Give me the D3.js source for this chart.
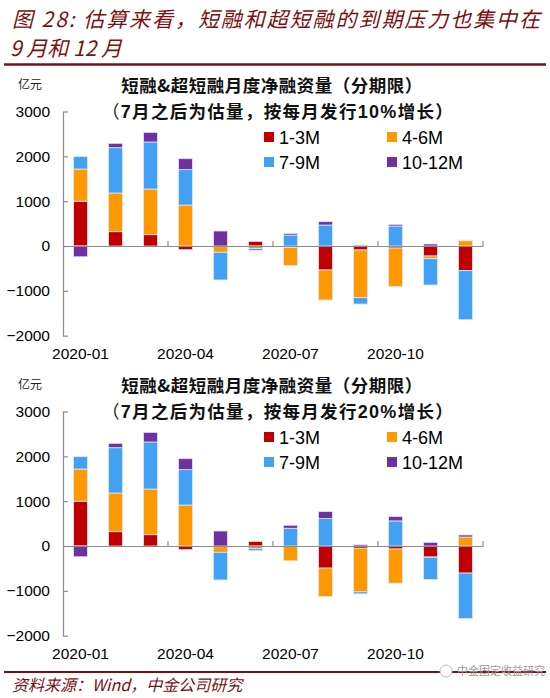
<!DOCTYPE html>
<html><head><meta charset="utf-8">
<script src="https://cdn.jsdelivr.net/npm/d3@7"></script>
<style>
html,body{margin:0;padding:0;background:#fff;}
svg{display:block;}
</style></head>
<body>
<svg id="c" width="550" height="698"></svg>
<script>
const months = ["2020-01","2020-02","2020-03","2020-04","2020-05","2020-06","2020-07","2020-08","2020-09","2020-10","2020-11","2020-12"];
const tickMonths = ["2020-01","2020-04","2020-07","2020-10"];
const seriesNames = ["1-3M","4-6M","7-9M","10-12M"];
const seriesColors = ["#c00000","#ff9900","#43a1f3","#7030a0"];
const yTicks = [3000,2000,1000,0,-1000,-2000];

// Chart 1: growth 10%
const a_1_3M   = [1000, 320, 253, -82, -15, 104, -35, -535, -89, -45, -223, -550];
const a_4_6M   = [717, 862, 1018, 914, -125, -55, -400, -669, -1063, -855, -60, 119];
const a_7_9M   = [276, 1011, 1049, 789, -617, -45, 245, 468, -142, 446, -587, -1093];
const a_10_12M = [-240, 97, 215, 245, 335, 0, 37, 75, 22, 37, 45, 15];

// Chart 2: growth 20%
const b_1_3M   = [1000, 320, 253, -82, -15, 104, -10, -493, -50, -67, -246, -604];
const b_4_6M   = [717, 862, 1018, 914, -125, -55, -320, -634, -972, -761, -5, 201];
const b_7_9M   = [276, 1011, 1049, 789, -617, -45, 396, 612, -45, 560, -493, -1015];
const b_10_12M = [-240, 97, 215, 245, 335, 0, 67, 157, 30, 97, 82, 45];

const titleLine1 = "图 28: 估算来看，短融和超短融的到期压力也集中在";
const titleLine2 = "9 月和 12 月";
const source = "资料来源：Wind，中金公司研究";

const svg = d3.select("#c");
const dark = "#7a1010";
const cjk = "'Noto Sans CJK SC', sans-serif";
const latin = "'Liberation Sans', Arial, sans-serif";

svg.append("text").attr("x", 12).attr("y", 27).attr("fill", dark)
  .attr("font-family", cjk).attr("font-size", 21).attr("font-style", "italic")
  .attr("textLength", 528).attr("lengthAdjust", "spacing")
  .text(titleLine1);
svg.append("text").attr("x", 10).attr("y", 56).attr("fill", dark)
  .attr("font-family", cjk).attr("font-size", 21).attr("font-style", "italic")
  .attr("textLength", 112).attr("lengthAdjust", "spacingAndGlyphs")
  .text(titleLine2);
svg.append("line").attr("x1", 4).attr("x2", 546).attr("y1", 64.5).attr("y2", 64.5)
  .attr("stroke", dark).attr("stroke-width", 2.5);

function drawChart(offY, growth, data) {
  const g = svg.append("g").attr("transform", `translate(0,${offY})`);
  const x = d3.scaleBand().domain(months).range([63, 483]).paddingInner(0.6).paddingOuter(0.3);
  const y = d3.scaleLinear().domain([-2000, 3000]).range([335.7, 111.5]);

  const rows = months.map((m, i) => {
    const r = {month: m};
    seriesNames.forEach((s, k) => r[s] = data[k][i]);
    return r;
  });
  const stack = d3.stack().keys(seriesNames).offset(d3.stackOffsetDiverging);
  const layers = stack(rows);

  g.selectAll("g.layer").data(layers).join("g")
    .attr("fill", (d, i) => seriesColors[i])
    .selectAll("rect").data(d => d).join("rect")
    .attr("x", d => x(d.data.month))
    .attr("width", x.bandwidth())
    .attr("y", d => y(Math.max(d[0], d[1])))
    .attr("height", d => Math.abs(y(d[0]) - y(d[1])))
    .attr("stroke", "#dfe6fb").attr("stroke-width", 0.8);

  // y axis
  const ya = g.append("g").attr("transform", "translate(63,0)")
    .call(d3.axisLeft(y).tickValues(yTicks).tickFormat(d3.format("d"))
      .tickSize(-5).tickPadding(13).tickSizeOuter(0));
  ya.select(".domain").attr("stroke", "#8c8c8c").attr("stroke-width", 1.2);
  ya.selectAll(".tick line").attr("stroke", "#8c8c8c").attr("stroke-width", 1.2);
  ya.selectAll("text").attr("font-family", latin).attr("font-size", 15.5).attr("fill", "#000");

  // zero axis
  const xa = g.append("g").attr("transform", `translate(0,${y(0)})`)
    .call(d3.axisBottom(x).tickValues([]).tickSizeOuter(0));
  xa.select(".domain").attr("stroke", "#8c8c8c").attr("stroke-width", 1.2);
  const step = x.step();
  const boundaries = [3, 6, 9, 12].map(i => x.range()[0] + i * step);
  g.selectAll("line.xt").data(boundaries).join("line")
    .attr("x1", d => d).attr("x2", d => d)
    .attr("y1", y(0)).attr("y2", y(0) - 5)
    .attr("stroke", "#8c8c8c").attr("stroke-width", 1.2);

  g.selectAll("text.xl").data(tickMonths).join("text")
    .attr("x", d => x(d) + x.bandwidth() / 2)
    .attr("y", 359)
    .attr("text-anchor", "middle")
    .attr("font-family", latin).attr("font-size", 15.5).attr("fill", "#000")
    .text(d => d);

  // unit
  g.append("text").attr("x", 18).attr("y", 89).attr("font-family", cjk)
    .attr("font-size", 12).attr("fill", "#222").text("亿元");

  // titles
  g.append("text").attr("x", 272).attr("y", 92).attr("text-anchor", "middle")
    .attr("font-family", cjk).attr("font-size", 17.5).attr("font-weight", "bold").attr("fill", "#111")
    .attr("letter-spacing", 0.5)
    .text("短融&超短融月度净融资量（分期限）");
  const t2 = g.append("text").attr("x", 278).attr("y", 118).attr("text-anchor", "middle")
    .attr("font-family", cjk).attr("font-size", 17.5).attr("fill", "#111")
    .attr("letter-spacing", 1.3);
  t2.append("tspan").text("（");
  t2.append("tspan").attr("font-family", latin).attr("font-weight", "bold").attr("font-size", 18).text("7");
  t2.append("tspan").attr("font-weight", "bold").text("月之后为估量，按每月发行");
  t2.append("tspan").attr("font-family", latin).attr("font-weight", "bold").attr("font-size", 18).text(growth + "%");
  t2.append("tspan").attr("font-weight", "bold").text("增长）");

  // legend
  const legPos = [[264, 137], [387, 137], [264, 162], [387, 162]];
  seriesNames.forEach((s, i) => {
    const [lx, ly] = legPos[i];
    g.append("rect").attr("x", lx).attr("y", ly - 5).attr("width", 10).attr("height", 10)
      .attr("fill", seriesColors[i]);
    g.append("text").attr("x", lx + 15).attr("y", ly + 6.5)
      .attr("font-family", latin).attr("font-size", 18).attr("fill", "#000").text(s);
  });
}

drawChart(0, 10, [a_1_3M, a_4_6M, a_7_9M, a_10_12M]);
drawChart(300, 20, [b_1_3M, b_4_6M, b_7_9M, b_10_12M]);

// footer
svg.append("line").attr("x1", 4).attr("x2", 546).attr("y1", 672).attr("y2", 672)
  .attr("stroke", dark).attr("stroke-width", 2);
svg.append("text").attr("x", 12).attr("y", 691).attr("fill", dark)
  .attr("font-family", cjk).attr("font-size", 16).attr("font-style", "italic")
  .text(source);
// watermark
svg.append("circle").attr("cx", 446).attr("cy", 671).attr("r", 6).attr("fill", "#fff")
  .attr("stroke", "#bbb").attr("stroke-width", 1);
svg.append("text").attr("x", 457).attr("y", 675).attr("fill", "#999")
  .attr("font-family", cjk).attr("font-size", 11)
  .text("中金固定收益研究");
</script>
</body></html>
